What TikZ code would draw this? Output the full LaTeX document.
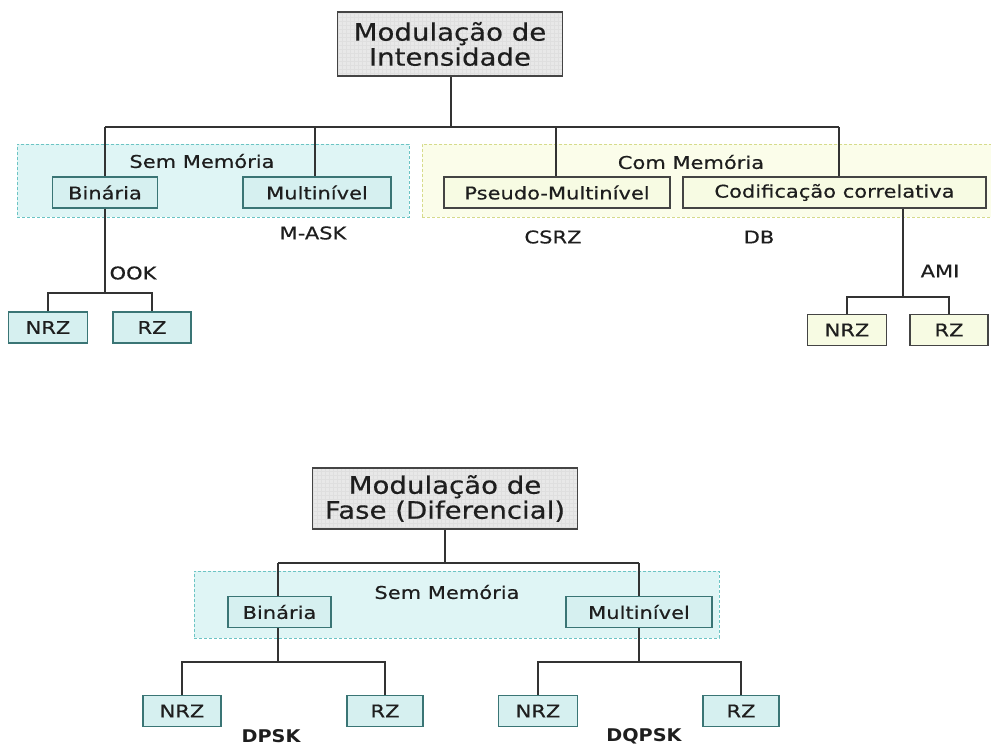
\documentclass[tikz,border=0pt]{standalone}
\usepackage{fontspec}
\setmainfont{DejaVu Sans}[FakeStretch=1.1]
\newfontfamily\labelfont{DejaVu Sans}[FakeStretch=1.2,FakeBold=0.5]
\newfontfamily\headfont{DejaVu Sans}[FakeStretch=1.15,FakeBold=0.4]
\definecolor{ink}{HTML}{1E1E1E}
\definecolor{wirecol}{HTML}{333333}
\definecolor{boxdark}{HTML}{444444}
\definecolor{tealdark}{HTML}{3A7575}
\definecolor{cyanfill}{HTML}{D6F0F0}
\definecolor{cyangrp}{HTML}{DFF5F5}
\definecolor{cyandash}{HTML}{6CC4C4}
\definecolor{creamfill}{HTML}{F7FBE3}
\definecolor{creamgrp}{HTML}{FBFDEA}
\definecolor{creamdash}{HTML}{D6DB8C}
\definecolor{rootfill}{HTML}{E8E8E8}
\definecolor{rootgrid}{HTML}{DFDFDF}
\begin{document}
\begin{tikzpicture}[x=1pt,y=-1pt,
  lbl/.style={font=\labelfont\fontsize{17.5}{21}\selectfont, text=ink, inner sep=0},
  boldlbl/.style={font=\bfseries\fontsize{17.5}{21}\selectfont, text=ink, inner sep=0},
  box/.style={lbl, draw, line width=1.3pt, minimum height=31},
  cyanbox/.style={box, draw=tealdark, fill=cyanfill},
  creambox/.style={box, draw=boxdark, fill=creamfill},
  cyangroup/.style={draw=cyandash, fill=cyangrp, dashed, dash pattern=on 3pt off 2pt, line width=1pt, inner sep=0},
  creamgroup/.style={draw=creamdash, fill=creamgrp, dashed, dash pattern=on 3pt off 2pt, line width=1pt, inner sep=0},
  rootbox/.style={draw=boxdark, fill=rootfill, line width=1.3pt, align=center, text=ink, inner sep=0,
    font=\headfont\fontsize{24}{25}\selectfont,
    path picture={\draw[rootgrid, line width=0.4pt, step=4pt] (path picture bounding box.south west) grid (path picture bounding box.north east);}},
  wire/.style={draw=wirecol, line width=1.6pt}]

\useasboundingbox (0,0) rectangle (991,747);

% ---------- Modulação de Intensidade ----------
\node[cyangroup, minimum width=392, minimum height=73] (semA) at (213,180.5) {};
\node[creamgroup, minimum width=576, minimum height=73] (comA) at (710,180.5) {};
\node[lbl] (semAt) at (202,161) {Sem Memória};
\node[lbl] (comAt) at (691,162) {Com Memória};

\node[rootbox, minimum width=225, minimum height=64] (rootA) at (450,44) {Modulação de\\Intensidade};

\node[cyanbox, minimum width=105] (binA) at (105,192.5) {Binária};
\node[cyanbox, minimum width=148] (mulA) at (317,192.5) {Multinível};
\node[creambox, minimum width=226] (pseudo) at (557,192.5) {Pseudo-Multinível};
\node[creambox, minimum width=303] (codif) at (834.5,192.5) {Codificação correlativa};

\node[cyanbox, minimum width=79] (nrzA) at (48,327.5) {NRZ};
\node[cyanbox, minimum width=78] (rzA) at (152,327.5) {RZ};
\node[creambox, minimum width=79] (nrzB) at (847,330) {NRZ};
\node[creambox, minimum width=78] (rzB) at (949,330) {RZ};

\node[lbl] (mask) at (313,233) {M-ASK};
\node[lbl] (csrz) at (553,237) {CSRZ};
\node[lbl] (db) at (759,237) {DB};
\node[lbl] (ook) at (133,273) {OOK};
\node[lbl] (ami) at (940,271) {AMI};

\coordinate (busA1) at (105,127);
\coordinate (busA2) at (315,127);
\coordinate (busA3) at (556,127);
\coordinate (busA4) at (839,127);
\coordinate (ookJ) at (105,293);
\coordinate (amiJ) at (903,297);

\draw[wire] (rootA.south -| 451,0) -- (451,127);
\draw[wire] (busA1) -- (busA4);
\draw[wire] (busA1) -- (busA1 |- binA.north);
\draw[wire] (busA2) -- (busA2 |- mulA.north);
\draw[wire] (busA3) -- (busA3 |- pseudo.north);
\draw[wire] (busA4) -- (busA4 |- codif.north);

\draw[wire] (binA.south -| ookJ) -- (ookJ);
\draw[wire] (nrzA.north) |- (ookJ) -| (rzA.north);
\draw[wire] (codif.south -| amiJ) -- (amiJ);
\draw[wire] (nrzB.north) |- (amiJ) -| (rzB.north);

% ---------- Modulação de Fase (Diferencial) ----------
\node[cyangroup, minimum width=525, minimum height=67] (semB) at (456.5,604.5) {};
\node[lbl] (semBt) at (447,592) {Sem Memória};

\node[rootbox, minimum width=265, minimum height=61] (rootB) at (445,498.5) {Modulação de\\Fase (Diferencial)};

\node[cyanbox, minimum width=103] (binB) at (279.5,612) {Binária};
\node[cyanbox, minimum width=146] (mulB) at (639,612) {Multinível};

\node[cyanbox, minimum width=78] (nrzC) at (182,711) {NRZ};
\node[cyanbox, minimum width=76] (rzC) at (385,711) {RZ};
\node[cyanbox, minimum width=79] (nrzD) at (538,711) {NRZ};
\node[cyanbox, minimum width=76] (rzD) at (741,711) {RZ};

\node[boldlbl] (dpsk) at (271,736) {DPSK};
\node[boldlbl] (dqpsk) at (644,736) {DQPSK};

\coordinate (busB1) at (278,563);
\coordinate (busB2) at (639,563);
\coordinate (binJ) at (278,662);
\coordinate (mulJ) at (639,662);

\draw[wire] (rootB.south) -- (rootB.south |- busB1);
\draw[wire] (busB1) -- (busB2);
\draw[wire] (busB1) -- (busB1 |- binB.north);
\draw[wire] (busB2) -- (busB2 |- mulB.north);

\draw[wire] (binB.south -| binJ) -- (binJ);
\draw[wire] (nrzC.north) |- (binJ) -| (rzC.north);
\draw[wire] (mulB.south -| mulJ) -- (mulJ);
\draw[wire] (nrzD.north) |- (mulJ) -| (rzD.north);

\end{tikzpicture}
\end{document}
